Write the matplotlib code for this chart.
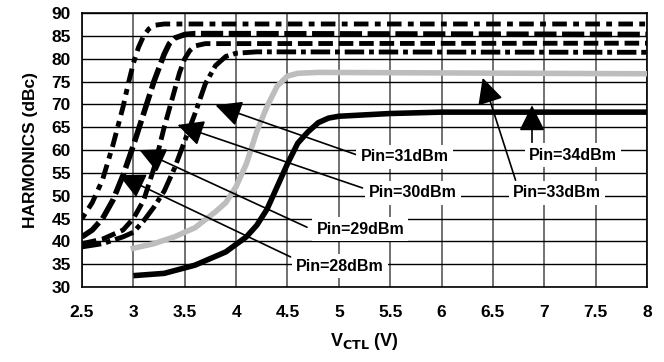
"""Harmonics vs control voltage for several input power levels."""
import matplotlib
matplotlib.use('Agg')
import matplotlib.pyplot as plt

plt.rcParams['font.family'] = ['Liberation Sans', 'DejaVu Sans']
plt.rcParams['font.weight'] = 'bold'

# Pin=28dBm
v28 = [2.5, 2.6, 2.7, 2.8, 2.9, 2.95, 3.0, 3.05, 3.1, 3.15, 3.2, 3.3, 8.0]
h28 = [45, 48.5, 53.5, 61, 69.5, 74.5, 79, 82.5, 85, 86.5, 87.3, 87.6, 87.6]
# Pin=29dBm
v29 = [2.5, 2.6, 2.7, 2.8, 2.9, 3.0, 3.1, 3.2, 3.3, 3.35, 3.4, 3.5, 3.6, 8.0]
h29 = [41, 42.5, 45, 49, 54.5, 61, 68, 75, 81, 83.3, 84.5, 85.3, 85.5, 85.3]
# Pin=30dBm
v30 = [2.5, 2.7, 2.9, 3.0, 3.1, 3.2, 3.3, 3.4, 3.45, 3.5, 3.55, 3.6, 3.7, 8.0]
h30 = [39.5, 40.5, 42.5, 45, 49, 56, 65, 73, 77, 80, 81.8, 82.8, 83.3, 83.4]
# Pin=31dBm
v31 = [2.5, 2.7, 2.9, 3.0, 3.1, 3.2, 3.3, 3.4, 3.5, 3.6, 3.7, 3.8, 3.9, 4.0, 4.2, 8.0]
h31 = [38.8, 39.5, 41, 42, 44.5, 47.5, 51, 56, 62, 68, 74.5, 78.5, 80.5, 81.2, 81.5, 81.4]
# Pin=33dBm
v33 = [3.0, 3.2, 3.4, 3.6, 3.8, 3.9, 4.0, 4.1, 4.2, 4.3, 4.4, 4.5, 4.6, 4.8, 8.0]
h33 = [38.5, 39.5, 41, 43, 46.5, 48.5, 52, 57, 64, 69.5, 74, 76.2, 76.8, 77, 76.7]
# Pin=34dBm
v34 = [3.0, 3.3, 3.6, 3.9, 4.1, 4.2, 4.3, 4.4, 4.5, 4.6, 4.7, 4.8, 4.9, 5.0, 5.5, 6.0, 8.0]
h34 = [32.5, 33, 34.8, 37.7, 41, 43.5, 47, 52, 57, 61.5, 64, 66, 67, 67.4, 68, 68.3, 68.3]

xticks = [2.5, 3, 3.5, 4, 4.5, 5, 5.5, 6, 6.5, 7, 7.5, 8]
xticklabels = ['2.5', '3', '3.5', '4', '4.5', '5', '5.5', '6', '6.5', '7', '7.5', '8']
yticks = list(range(30, 95, 5))

# label text, text position, arrow tail, arrow tip
labels = ['Pin=28dBm', 'Pin=29dBm', 'Pin=30dBm', 'Pin=31dBm', 'Pin=33dBm', 'Pin=34dBm']
label_xy = [(5.01, 34.6), (5.21, 42.7), (5.72, 50.6), (5.64, 58.5), (7.12, 50.6), (7.28, 58.9)]
tails = [(4.53, 36.6), (4.69, 43.1), (5.23, 51.7), (5.32, 57.8), (6.72, 53.4), (6.88, 61.7)]
tips = [(2.86, 54.5), (3.06, 60.0), (3.43, 65.5), (3.80, 69.8), (6.40, 75.8), (6.88, 69.8)]


def main():
    fig = plt.figure(figsize=(6.64, 3.62), dpi=100)
    ax = fig.add_axes([0.1235, 0.207, 0.851, 0.757])

    ax.plot(v28, h28, color='black', lw=3.5, dashes=(1.2, 1.3, 3, 1.3), zorder=3)
    ax.plot(v29, h29, color='black', lw=4, dashes=(4, 1), zorder=3)
    ax.plot(v30, h30, color='black', lw=3.5, dashes=(3, 1.2), zorder=3)
    ax.plot(v31, h31, color='black', lw=3.5, dashes=(4, 1, 1, 1), zorder=3)
    ax.plot(v33, h33, color='#bdbdbd', lw=4, zorder=3)
    ax.plot(v34, h34, color='black', lw=4, solid_capstyle='butt', zorder=3)

    for lab, txy, tail, tip in zip(labels, label_xy, tails, tips):
        ax.annotate('', xy=tip, xytext=tail,
                    arrowprops=dict(arrowstyle='-|>,head_length=0.8,head_width=0.4',
                                    color='black', lw=1.2, mutation_scale=20,
                                    shrinkA=0, shrinkB=0), zorder=4)
        ax.text(txy[0], txy[1], lab, ha='center', va='center', fontsize=11.5,
                fontweight='bold', zorder=5,
                bbox=dict(facecolor='white', edgecolor='none', pad=3))

    ax.set_xlim(2.5, 8)
    ax.set_ylim(30, 90)
    ax.set_xticks(xticks)
    ax.set_xticklabels(xticklabels)
    ax.set_yticks(yticks)
    ax.tick_params(length=0, labelsize=12.5)
    ax.tick_params(axis='x', pad=13)
    ax.tick_params(axis='y', pad=8)
    for lbl in ax.get_xticklabels() + ax.get_yticklabels():
        lbl.set_fontweight('bold')
    ax.grid(axis='y', color='black', lw=1)
    ax.grid(axis='x', color='#666666', lw=1.3)
    for sp in ax.spines.values():
        sp.set_linewidth(1.2)

    ax.set_xlabel('V$_{\\mathbf{CTL}}$ (V)', fontsize=13, fontweight='bold', labelpad=8)
    ax.set_ylabel('HARMONICS (dBc)', fontsize=12.5, fontweight='bold', labelpad=10)

    fig.savefig('out.png', dpi=100)


if __name__ == '__main__':
    main()
